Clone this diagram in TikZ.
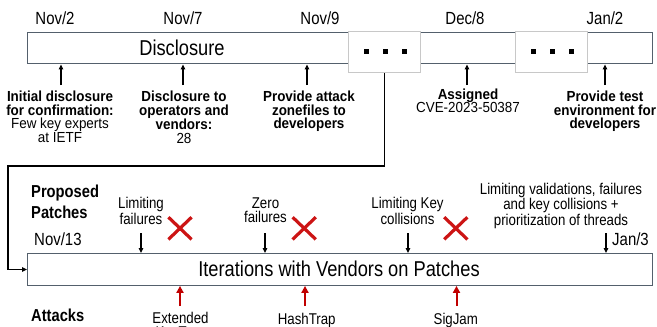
\documentclass[tikz,border=0pt]{standalone}
\usepackage{fontspec}
\setmainfont{Liberation Sans}
\newfontfamily\nfont{Liberation Sans}[FakeStretch=0.85]
\newfontfamily\bfont{Liberation Sans}[FakeStretch=0.92]
\usetikzlibrary{arrows.meta,shapes.misc}
\definecolor{boxline}{RGB}{84,96,108}
\definecolor{gapline}{RGB}{200,200,200}
\definecolor{xred}{RGB}{204,20,20}
\definecolor{arred}{RGB}{192,0,0}
\begin{document}
\begin{tikzpicture}[x=1pt,y=-1pt,
  frame/.style={draw=boxline,line width=1.4pt,fill=white,inner sep=0pt,anchor=north west},
  gapbox/.style={draw=gapline,line width=1pt,fill=white,inner sep=0pt,anchor=north west},
  sq/.style={fill=black,inner sep=0pt,minimum size=5pt},
  arr/.style={line width=1.1pt,-{Triangle[length=5pt,width=4.5pt]}},
  redarr/.style={draw=arred,line width=2pt,-{Triangle[length=7pt,width=7pt]}},
  date/.style={font=\nfont\fontsize{17.6}{17.6}\selectfont,anchor=base,inner sep=0pt},
  title/.style={font=\nfont\fontsize{21.5}{22}\selectfont,anchor=base,inner sep=0pt},
  note/.style={font=\bfont\fontsize{14.6}{13.6}\selectfont,align=center,anchor=north,inner sep=0pt},
  plabel/.style={font=\nfont\fontsize{15.6}{14.5}\selectfont,align=center,anchor=north,inner sep=0pt},
  small/.style={font=\nfont\fontsize{15.6}{14.5}\selectfont,anchor=base,inner sep=0pt},
  head/.style={font=\nfont\fontsize{17.3}{20.6}\selectfont\bfseries,align=left,anchor=north west,inner sep=0pt},
  cross/.style={cross out,draw=xred,line width=3.2pt,inner sep=0pt,minimum width=20pt,minimum height=19pt}
]
\useasboundingbox (0,0) rectangle (657,327);
\clip (0,0) rectangle (657,327);

% ---------- Disclosure timeline ----------
\node[frame,minimum width=625pt,minimum height=31.5pt] (disc) at (26.5,31.5) {};
\node[title] (disctitle) at (182,55.5) {Disclosure};
\node[gapbox,minimum width=72pt,minimum height=40.7pt] (gap1) at (348,31.3) {};
\node[gapbox,minimum width=72pt,minimum height=40.7pt] (gap2) at (515,31.3) {};
\node[sq] (d1) at (366,51) {};
\node[sq] (d2) at (385,51) {};
\node[sq] (d3) at (404,51) {};
\node[sq] (d4) at (533,51) {};
\node[sq] (d5) at (552,51) {};
\node[sq] (d6) at (571,51) {};

\node[date] (nov2) at (55,24.5) {Nov/2};
\node[date] (nov7) at (183,24.5) {Nov/7};
\node[date] (nov9) at (320,24.5) {Nov/9};
\node[date] (dec8) at (465,24.5) {Dec/8};
\node[date] (jan2) at (605,24.5) {Jan/2};

\coordinate (t1) at (61,85);
\coordinate (t2) at (183,85);
\coordinate (t3) at (307,85);
\coordinate (t4) at (467,85);
\coordinate (t5) at (605,85);
\foreach \c in {t1,t2,t3,t4,t5} \draw[arr] (\c) -- (\c |- disc.south);

\node[note] (n1) at (60,90.9) {\textbf{Initial disclosure}\\\textbf{for confirmation:}\\Few key experts\\at IETF};
\node[note] (n2) at (184,90.9) {\textbf{Disclosure to}\\\textbf{operators and}\\\textbf{vendors:}\\28};
\node[note] (n3) at (309,90.9) {\textbf{Provide attack}\\\textbf{zonefiles to}\\\textbf{developers}};
\node[note] (n4) at (468,88.5) {\textbf{Assigned}\\CVE-2023-50387};
\node[note] (n5) at (605,90.9) {\textbf{Provide test}\\\textbf{environment for}\\\textbf{developers}};

% ---------- link to patches ----------
\node[frame,minimum width=625pt,minimum height=31.5pt] (patch) at (27,253) {};
\node[title] (patchtitle) at (339,276.5) {Iterations with Vendors on Patches};
\coordinate (bend) at (8,166);
\draw[arr] (gap1.south) |- (bend) |- (patch.west);

% ---------- proposed patches ----------
\node[head] (pp) at (31,185.1) {Proposed\\Patches};
\node[date,anchor=base west] (nov13) at (34,245) {Nov/13};
\node[date,anchor=base west] (jan3) at (612,245) {Jan/3};

\node[plabel] (l1) at (141,197.1) {Limiting\\failures};
\node[plabel] (l2) at (265.5,197.1) {Zero\\failures};
\node[plabel] (l3) at (407.5,197.1) {Limiting Key\\collisions};
\node[plabel] (l4) at (561,182.6) {Limiting validations, failures\\and key collisions +\\prioritization of threads};

\coordinate (p1) at (141,233);
\coordinate (p2) at (265,233);
\coordinate (p3) at (408,233);
\coordinate (p4) at (606,233);
\foreach \c in {p1,p2,p3,p4} \draw[arr] (\c) -- (\c |- patch.north);

\node[cross] (x1) at (180,228.3) {};
\node[cross] (x2) at (304.2,228.3) {};
\node[cross] (x3) at (455.8,228.3) {};

% ---------- attacks ----------
\node[head] (att) at (31,308.9) {Attacks};
\coordinate (r1) at (180,306);
\coordinate (r2) at (305,306);
\coordinate (r3) at (456.5,306);
\foreach \c in {r1,r2,r3} \draw[redarr] (\c) -- (\c |- patch.south);
\node[plabel] (a1) at (180.5,311.6) {Extended\\KeyTrap};
\node[small] (a2) at (306.7,324) {HashTrap};
\node[small] (a3) at (455.8,324) {SigJam};
\end{tikzpicture}
\end{document}
